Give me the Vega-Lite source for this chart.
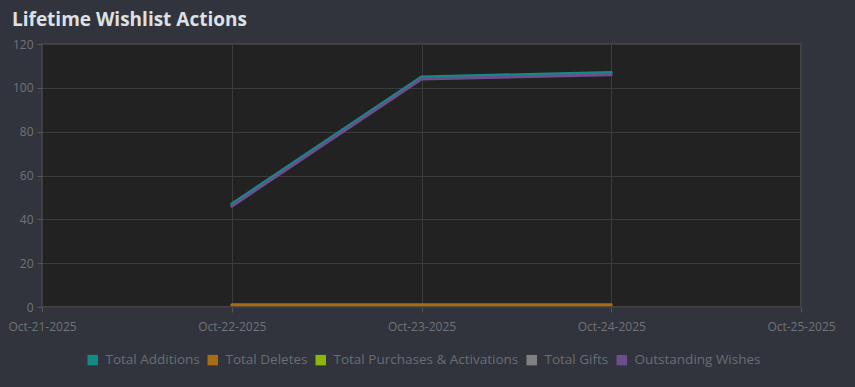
{
  "$schema": "https://vega.github.io/schema/vega-lite/v6.json",
  "width": 759,
  "height": 263,
  "autosize": {"type": "none"},
  "padding": {"left": 42, "top": 44, "right": 54, "bottom": 80},
  "background": "#31343c",
  "title": {
    "text": "Lifetime Wishlist Actions",
    "anchor": "start",
    "frame": "group",
    "dx": -30,
    "offset": 8,
    "font": "Open Sans",
    "fontSize": 19,
    "fontWeight": "bold",
    "color": "#dde1e5"
  },
  "config": {
    "view": {"fill": "#222222", "stroke": "#444444", "strokeWidth": 2},
    "axis": {
      "grid": true,
      "gridColor": "#3c3c3c",
      "gridWidth": 1,
      "domain": false,
      "tickColor": "#555555",
      "tickSize": 5,
      "labelColor": "#707379",
      "labelFont": "Open Sans",
      "labelFontSize": 12,
      "title": null
    },
    "legend": {
      "labelFont": "Open Sans",
      "labelFontSize": 13.5,
      "labelColor": "#6a6d73",
      "labelLimit": 400,
      "symbolType": "square",
      "symbolSize": 110,
      "symbolStrokeWidth": 0,
      "columnPadding": 6,
      "labelOffset": 6,
      "padding": 0
    }
  },
  "data": {
    "values": [
      {"date": "2025-10-22", "series": "Total Additions", "value": 47},
      {"date": "2025-10-23", "series": "Total Additions", "value": 105},
      {"date": "2025-10-24", "series": "Total Additions", "value": 107},
      {"date": "2025-10-22", "series": "Outstanding Wishes", "value": 46},
      {"date": "2025-10-23", "series": "Outstanding Wishes", "value": 104},
      {"date": "2025-10-24", "series": "Outstanding Wishes", "value": 106},
      {"date": "2025-10-22", "series": "Total Deletes", "value": 1},
      {"date": "2025-10-23", "series": "Total Deletes", "value": 1},
      {"date": "2025-10-24", "series": "Total Deletes", "value": 1}
    ]
  },
  "mark": {"type": "line", "strokeWidth": 3, "strokeCap": "round"},
  "encoding": {
    "x": {
      "field": "date",
      "type": "temporal",
      "timeUnit": "utcyearmonthdate",
      "scale": {"domain": [
        {"year": 2025, "month": 10, "date": 21, "utc": true},
        {"year": 2025, "month": 10, "date": 25, "utc": true}
      ]},
      "axis": {
        "labelExpr": "utcFormat(datum.value, '%b-%d-%Y')",
        "tickCount": 4,
        "labelPadding": 9,
        "labelFlush": false,
        "labelOverlap": false
      }
    },
    "y": {
      "field": "value",
      "type": "quantitative",
      "scale": {"domain": [0, 120], "nice": false},
      "axis": {"values": [0, 20, 40, 60, 80, 100, 120], "labelPadding": 4}
    },
    "color": {
      "field": "series",
      "type": "nominal",
      "scale": {
        "domain": ["Total Additions", "Total Deletes", "Total Purchases & Activations", "Total Gifts", "Outstanding Wishes"],
        "range": ["#138a85", "#a86c12", "#8fb50b", "#808080", "#6b4f8c"]
      },
      "legend": {
        "title": null,
        "orient": "none",
        "direction": "horizontal",
        "legendX": 44,
        "legendY": 309,
        "encode": {
          "symbols": {"update": {"fill": {"scale": "color", "field": "value"}, "fillOpacity": {"value": 1}}}
        }
      }
    }
  }
}
